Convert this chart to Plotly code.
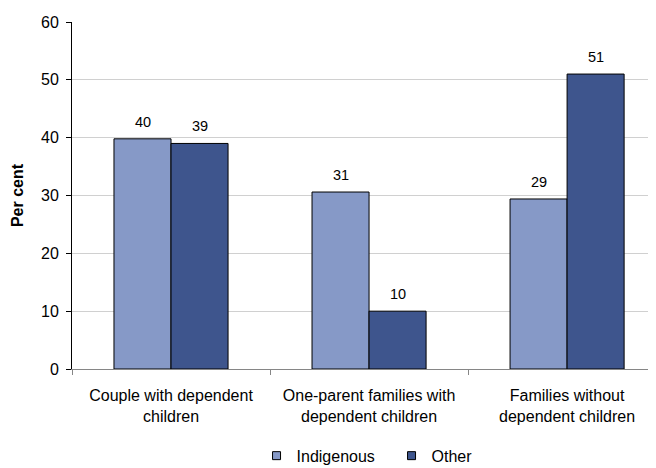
import plotly.graph_objects as go

categories = ["Couple with dependent<br>children",
              "One-parent families with<br>dependent children",
              "Families without<br>dependent children"]
indigenous = [39.8, 30.6, 29.4]
other = [39.0, 10.0, 51.0]
series_names = ["Indigenous", "Other"]
y_ticks = [0, 10, 20, 30, 40, 50, 60]

FONT = "Liberation Sans, Arial, sans-serif"
colors = ["#8699C7", "#3E558D"]

fig = go.Figure()
for name, vals, col in zip(series_names, [indigenous, other], colors):
    fig.add_trace(go.Bar(
        x=categories, y=vals, name=name, showlegend=False,
        marker=dict(color=col, line=dict(color="black", width=1)),
        hoverinfo="skip",
    ))
# legend entries with small square symbols
for name, col in zip(series_names, colors):
    fig.add_trace(go.Scatter(
        x=[None], y=[None], mode="markers", name=name,
        marker=dict(symbol="square", size=8, color=col, line=dict(color="black", width=1)),
    ))

# value labels above bars
bar_px = 57
for si, vals in enumerate([indigenous, other]):
    shift = (-bar_px / 2) if si == 0 else (bar_px / 2)
    for c, v in zip(categories, vals):
        fig.add_annotation(x=c, y=v, text=f"{round(v)}", showarrow=False,
                           xshift=shift, yshift=17, yanchor="middle",
                           font=dict(family=FONT, size=14.5, color="black"))

# page body has an 8px margin, so the figure is drawn 8px smaller
fig.update_layout(
    width=648, height=460,
    margin=dict(l=64, r=0, t=14, b=99, autoexpand=False),
    paper_bgcolor="white", plot_bgcolor="white",
    barmode="group", bargap=0.424, bargroupgap=0,
    font=dict(family=FONT, size=16, color="black"),
    showlegend=True,
    legend=dict(orientation="h", x=0.316, xanchor="left", y=-0.25, yanchor="middle",
                font=dict(family=FONT, size=16, color="black"),
                entrywidth=90, itemsizing="trace", traceorder="normal"),
)
fig.update_xaxes(
    range=[-0.5, 2.449], showline=True, linecolor="#868686", linewidth=1,
    ticks="outside", tickson="boundaries", ticklen=5, tickcolor="#868686",
    showgrid=False, tickfont=dict(family=FONT, size=16, color="black"),
    automargin=False, ticklabelstandoff=12,
)
fig.update_yaxes(
    range=[0, 60], tickvals=y_ticks, showline=True, linecolor="black", linewidth=1,
    ticks="outside", ticklen=5, tickcolor="black",
    showgrid=True, gridcolor="#D0D0D0", gridwidth=1, zeroline=False,
    tickfont=dict(family=FONT, size=16, color="black"),
    automargin=False, ticklabelstandoff=4,
    title=dict(text="<b>Per cent</b>", font=dict(family=FONT, size=16, color="black"), standoff=13),
)

fig.write_html("out.html")
